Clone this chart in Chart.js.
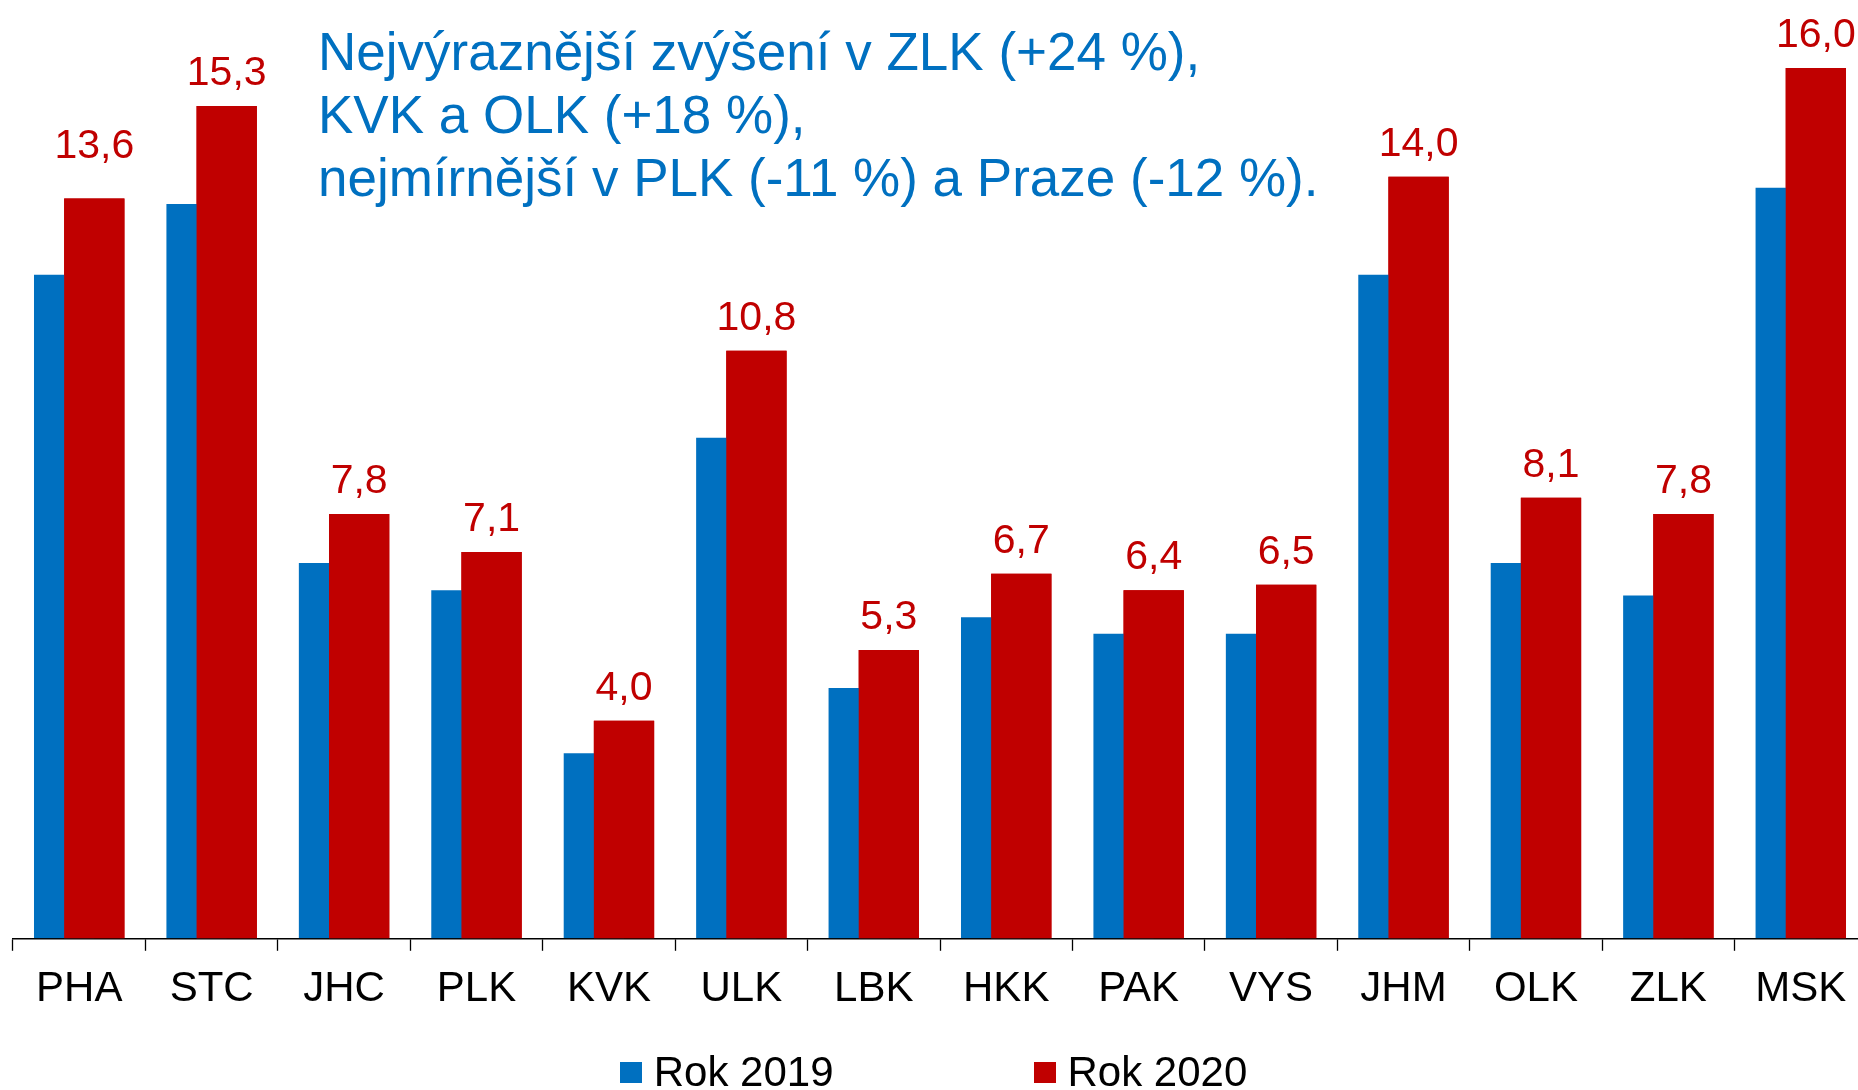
<!DOCTYPE html>
<html>
<head>
<meta charset="utf-8">
<title>Kraje - rok 2019 a 2020</title>
<script src="https://cdn.jsdelivr.net/npm/chart.js@4.4.1/dist/chart.umd.min.js"></script>
<style>
  html, body { margin: 0; padding: 0; background: #fff; overflow: hidden; }
  #wrap { position: relative; width: 1867px; height: 1090px; }
  #note {
    position: absolute; left: 318px; top: 20px; margin: 0;
    font: 53px/63px "Liberation Sans", Arial, sans-serif;
    color: #0070c0; white-space: pre;
  }
  #legend {
    position: absolute; left: 0; right: 0; top: 1051px;
    display: flex; justify-content: center; gap: 200px;
    font: 42px/42px "Liberation Sans", Arial, sans-serif; color: #000;
  }
  #legend .box {
    display: inline-block; width: 22px; height: 21px;
    margin-right: 12px; vertical-align: 3px;
  }
</style>
</head>
<body>
<div id="wrap">
  <canvas id="chart"></canvas>
  <div id="note"></div>
  <div id="legend"></div>
</div>
<script>
// data
const regions = ['PHA', 'STC', 'JHC', 'PLK', 'KVK', 'ULK', 'LBK', 'HKK', 'PAK', 'VYS', 'JHM', 'OLK', 'ZLK', 'MSK'];
const values2019 = [12.2, 13.5, 6.9, 6.4, 3.4, 9.2, 4.6, 5.9, 5.6, 5.6, 12.2, 6.9, 6.3, 13.8];
const values2020 = [13.6, 15.3, 7.8, 7.1, 4.0, 10.8, 5.3, 6.7, 6.4, 6.5, 14.0, 8.1, 7.8, 16.0];
const seriesNames = ['Rok 2019', 'Rok 2020'];
const noteLines = [
  'Nejvýraznější zvýšení v ZLK (+24 %),',
  'KVK a OLK (+18 %),',
  'nejmírnější v PLK (-11 %) a Praze (-12 %).'
];

const BLUE = '#0070c0';
const RED = '#c00000';
const FONT = '"Liberation Sans", Arial, sans-serif';

document.getElementById('note').textContent = noteLines.join('\n');

// red bars overlap the blue ones, so paint them again on top,
// then put the value labels above them
const redOnTop = {
  id: 'redOnTop',
  afterDatasetsDraw(chart) {
    const meta = chart.getDatasetMeta(1);
    meta.controller.draw();

    const ctx = chart.ctx;
    ctx.save();
    ctx.font = '41px ' + FONT;
    ctx.fillStyle = RED;
    ctx.textAlign = 'center';
    ctx.textBaseline = 'alphabetic';
    meta.data.forEach((bar, i) => {
      const lift = i === 0 ? 41 : 21; // PHA label sits a bit higher
      const txt = values2020[i].toFixed(1).replace('.', ',');
      ctx.fillText(txt, bar.x, bar.y - lift);
    });
    ctx.restore();
  }
};

const chart = new Chart(document.getElementById('chart'), {
  type: 'bar',
  data: {
    labels: regions,
    datasets: [
      { label: seriesNames[0], data: values2019, backgroundColor: BLUE },
      { label: seriesNames[1], data: values2020, backgroundColor: RED }
    ]
  },
  options: {
    responsive: true,
    maintainAspectRatio: false,
    animation: false,
    datasets: {
      bar: { barPercentage: 2, categoryPercentage: 0.4553, borderWidth: 0 }
    },
    layout: { padding: { left: 13, right: 0, top: 0, bottom: 0 } },
    plugins: {
      legend: { display: false },
      tooltip: { enabled: false }
    },
    scales: {
      x: {
        offset: true,
        grid: {
          display: true,
          offset: true,
          drawOnChartArea: false,
          tickLength: 12.5,
          tickColor: '#000',
          tickWidth: 1.3
        },
        border: { display: true, color: '#000', width: 1.4 },
        ticks: {
          color: '#000',
          font: { family: FONT, size: 42 },
          padding: 13,
          maxRotation: 0,
          autoSkip: false
        },
        afterFit(scale) { scale.height = 151.7; }
      },
      y: { display: false, min: 0, max: 17.25 }
    }
  },
  plugins: [redOnTop]
});

// html legend built from the chart's datasets
const legend = document.getElementById('legend');
chart.data.datasets.forEach(ds => {
  const item = document.createElement('div');
  const box = document.createElement('span');
  box.className = 'box';
  box.style.background = ds.backgroundColor;
  item.appendChild(box);
  item.appendChild(document.createTextNode(ds.label));
  legend.appendChild(item);
});
</script>
</body>
</html>
